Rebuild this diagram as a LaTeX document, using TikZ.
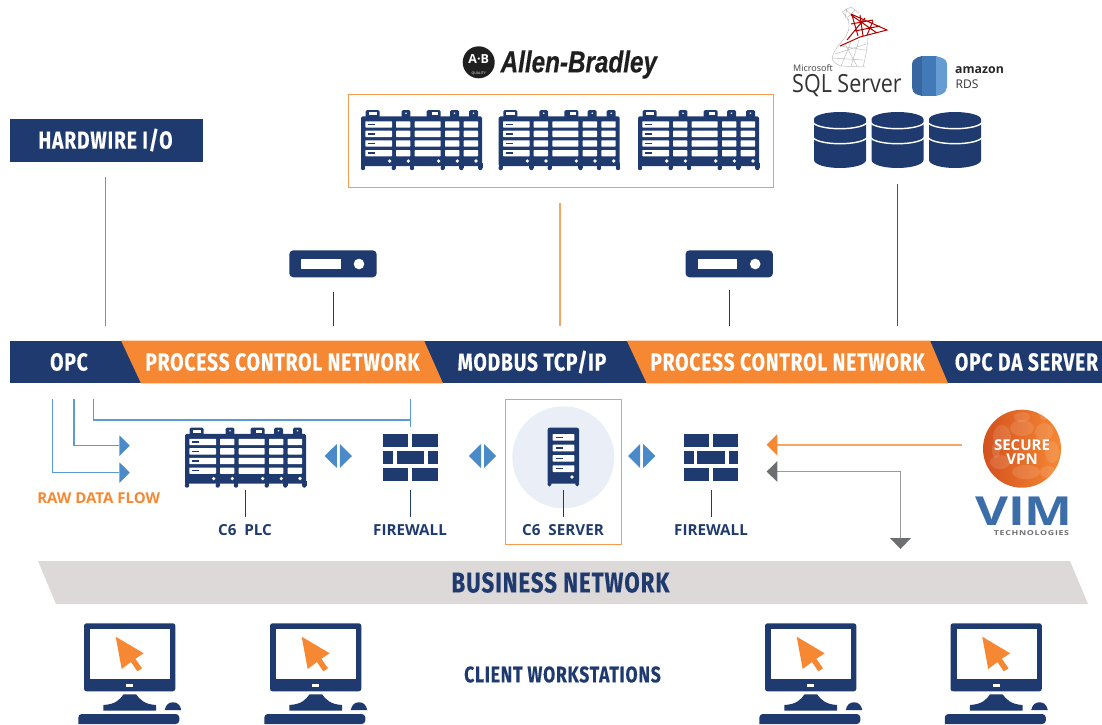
\documentclass[tikz,border=0pt]{standalone}
\usepackage{fontspec}
\setmainfont{Open Sans}
\newfontfamily\headfont[FakeStretch=0.78,LetterSpace=3.4,FakeBold=0.3]{Fira Sans Bold}
\newfontfamily\labelfont{Open Sans Bold}
\newfontfamily\wideb[FakeStretch=1.27]{Open Sans Bold}
\newfontfamily\techfont[FakeStretch=1.3,LetterSpace=10]{Open Sans Bold}
\newfontfamily\sqlfont[FakeStretch=0.86]{Open Sans}
\newfontfamily\abfont[FakeStretch=0.8,FakeBold=0.4]{Liberation Sans Bold Italic}
\definecolor{navy}{HTML}{1F3A6E}
\definecolor{ora}{HTML}{F68833}
\definecolor{bluel}{HTML}{5B9BD5}
\definecolor{blueh}{HTML}{4A8AC9}
\definecolor{grayh}{HTML}{6D6E71}
\definecolor{grayl}{HTML}{9A9A9C}
\definecolor{band}{HTML}{DCD9D8}
\definecolor{halo}{HTML}{E9EEF7}
\tikzset{
  x=1pt,y=-1pt,
  headtxt/.style={text=white,font=\headfont\fontsize{24.7}{25}\selectfont,inner sep=0pt},
  lab/.style={text=navy,font=\labelfont\fontsize{15.2}{16}\selectfont,inner sep=0pt},
  feedln/.style={draw=bluel,line width=1.1pt},
  orln/.style={draw=ora!75,line width=1.1pt},
  navln/.style={draw=navy,line width=1pt},
  grln/.style={draw=grayl,line width=1.1pt},
  navfill/.style={fill=navy,draw=none},
  plcicon/.pic={
    \foreach \a/\b in {4.7/18.7,40.7/49.3,65.7/79.7,89/98,108/117}
      \fill[navy,rounded corners=1.5pt] (\a,0) rectangle (\b,8);
    \foreach \a/\b in {7.5/16,71/77}
      \fill[white] (\a,2.4) rectangle (\b,5);
    \foreach \a in {45,93.5,112.5}
      \fill[white] (\a,3.2) circle (0.9);
    \fill[navy,rounded corners=1.5pt] (0,6.3) rectangle (121,56);
    \foreach \a in {2,32.7,51,81.7,100.3,119.3}{
      \fill[navy] (\a-2.2,53) rectangle (\a+2.2,58);
      \fill[navy] (\a,58) circle (2.2);
    }
    \foreach \r in {11.3,20.7,30.3,40}{
      \foreach \a/\b in {4.3/31,35/49.3,53.7/79.7,84/98.3,102.7/117}
        \fill[white,rounded corners=0.6pt] (\a,\r) rectangle (\b,\r+6.3);
      \fill[navy] (7,\r+2.4) rectangle (14.3,\r+3.9);
    }
    \foreach \a in {28.7,47.3,77.7,96.3,115}
      \fill[white] (\a,51) circle (1.8);
  },
  wallicon/.pic={
    \foreach \a/\b/\c/\d in {0/25.3/0/13.3,29.3/54.7/0/13.3,0/10/17/30.3,13.7/41/17/30.3,45/54.7/17/30.3,0/25.3/34/47.3,29.3/54.7/34/47.3}
      \fill[navy] (\a,\c) rectangle (\b,\d);
  },
  devicon/.pic={
    \fill[navy,rounded corners=4pt] (0,0) rectangle (87.4,27);
    \fill[white] (12,9) rectangle (51.4,18.7);
    \fill[white] (69.7,13.7) circle (5.3);
  },
  dbicon/.pic={
    \fill[navy] (0,7.3) arc[start angle=180,end angle=360,x radius=26,y radius=7.3]
      -- (52,48) arc[start angle=0,end angle=180,x radius=26,y radius=8] -- cycle;
    \foreach \y in {9.7,24.7}
      \draw[white,line width=1.4pt] (-1,\y) arc[start angle=180,end angle=0,x radius=27,y radius=7];
  },
  pcicon/.pic={
    \fill[navy,rounded corners=2.5pt] (0,0) rectangle (91.3,68);
    \fill[white] (6,6) rectangle (86,56);
    \fill[white] (42,60.4) rectangle (49.3,63.4);
    \fill[navy] (19.3,81.7) .. controls (32,81) and (36,76) .. (39.5,71) -- (52,71)
       .. controls (56,76) and (60,81) .. (72,81.7) -- (72,87.4) -- (19.3,87.4) -- cycle;
    \fill[navy] (80.7,86.7) .. controls (82,81) and (85,79) .. (89,79) .. controls (93,79) and (96,81) .. (97.3,86.7) -- cycle;
    \fill[navy,rounded corners=3.5pt] (-5.7,100.7) -- (-5.7,90.7) -- (95.3,90.7) -- (95.3,100.7) [sharp corners] -- cycle;
    \fill[ora] (31.7,13.4) -- (59.7,30) -- (51.3,35.4) -- (58,45) -- (53.3,48) -- (47,38.7) -- (37.7,45.7) -- cycle;
  },
  dbl/.pic={
    \fill[blueh] (-1.5,-12) -- (-1.5,12) -- (-13.7,0) -- cycle;
    \fill[blueh] (1.5,-12) -- (1.5,12) -- (13.7,0) -- cycle;
  }
}
\begin{document}
\begin{tikzpicture}
\useasboundingbox (0,0) rectangle (1102,724);

% hardwire box
\node[navfill,minimum width=193pt,minimum height=43pt,inner sep=0pt,anchor=north west] (hw) at (10,119) {};
\node[headtxt] (hwtxt) at (105.5,140) {HARDWIRE I/O};

% network bar
\fill[navy] (10,340.5) rectangle (1102,383.3);
\fill[ora] (121,340.5) -- (424,340.5) -- (443,383.3) -- (141,383.3) -- cycle;
\fill[ora] (626.7,340.5) -- (930,340.5) -- (948,383.3) -- (646.7,383.3) -- cycle;
\node[headtxt] (opc) at (69,362) {OPC};
\node[headtxt] (pcna) at (282.5,362) {PROCESS CONTROL NETWORK};
\node[headtxt] (modbus) at (532,362) {MODBUS TCP/IP};
\node[headtxt] (pcnb) at (787.5,362) {PROCESS CONTROL NETWORK};
\node[headtxt] (opcda) at (1026.5,362) {OPC DA SERVER};

% Allen-Bradley
\node[circle,fill=black!88,minimum size=32pt,inner sep=0pt] (ablogo) at (478.7,62.3) {};
\node[text=white,font=\fontsize{12.5}{12}\selectfont\bfseries,inner sep=0pt] (abt) at (478.7,59.5) {A·B};
\node[text=white,font=\fontsize{3.5}{4}\selectfont,inner sep=0pt] (abq) at (478.7,74) {QUALITY};
\node[text=black!88,font=\abfont\fontsize{30.3}{30}\selectfont,inner sep=0pt,anchor=west] (abname) at (500.5,64.5) {Allen-Bradley};

% orange box with PLCs
\node[draw=ora!85,line width=1.1pt,minimum width=425pt,minimum height=93pt,inner sep=0pt,anchor=north west] (plcbox) at (347.7,93.7) {};
\pic at (361,110) {plcicon};
\pic at (498.7,110) {plcicon};
\pic at (638,110) {plcicon};

% SQL Server logo
\begin{scope}[shift={(785,0)}]
  \draw[black!25,line width=0.5pt] (57,12) .. controls (62,16) and (67,24) .. (62,34) .. controls (60,40) and (50,46) .. (47,58) .. controls (48,62) and (52,65) .. (56,66) -- (80,67)
    (57,12) -- (66,7) (57,12) -- (64,20) (60,9) -- (70,18) (66,7) -- (74,13) (62,8) -- (60,18) (70,10) -- (63,17)
    (83,38) .. controls (82,50) and (80,60) .. (78,67) (55,46) -- (80,50) (50,54) -- (81,44) (47,58) -- (78,60) (66,42) -- (56,66) (74,40) -- (66,66) (60,44) -- (72,66);
  \draw[red!70!black,line width=1pt] (66,14) -- (102,30) -- (75,37) -- (55,46)
    (67,15) -- (73,36) (75,15) -- (78,36) (66,24) -- (88,20) (70,31) -- (95,26) (88,21) -- (82,35) (62,40) -- (80,18) (66,15) -- (92,33);
\end{scope}
\node[text=black!75,font=\fontsize{9}{9}\selectfont,inner sep=0pt,anchor=base west] (ms) at (793,71) {Microsoft};
\node[text=black!80,font=\sqlfont\fontsize{25}{25}\selectfont,inner sep=0pt,anchor=base west] (sql) at (792,92) {SQL Server};

% Amazon RDS
\fill[blueh!55!navy] (917,57.5) -- (922,56) -- (922,96) -- (917,94.5) .. controls (913,93) and (912,90) .. (912,87) -- (912,65) .. controls (912,61) and (914,59) .. (917,57.5) -- cycle;
\fill[blueh!80!navy] (922,56) rectangle (936,96);
\fill[blueh!85!white] (936,56) -- (941,57.5) .. controls (945,59) and (947,61) .. (947,65) -- (947,87) .. controls (947,90) and (945,93) .. (941,94.5) -- (936,96) -- cycle;
\node[text=black!85,font=\labelfont\fontsize{12.3}{12}\selectfont,inner sep=0pt,anchor=west] (amz) at (955,70.5) {amazon};
\node[text=black!80,font=\fontsize{12}{12}\selectfont,inner sep=0pt,anchor=west] (rds) at (955.5,84.5) {RDS};

% databases
\pic at (814,112) {dbicon};
\pic at (871.5,112) {dbicon};
\pic at (929,112) {dbicon};

% devices
\pic at (289.3,250.3) {devicon};
\pic at (685.5,250.3) {devicon};

% connector anchors
\coordinate (hwb) at (105.5,177);
\coordinate (hwt) at (105.5,326);
\coordinate (plcb) at (560,203);
\coordinate (plct) at (560,326);
\coordinate (dva) at (333,292);
\coordinate (dvat) at (333,326);
\coordinate (dvb) at (729,290);
\coordinate (dvbt) at (729,326);
\coordinate (dbb) at (897.5,184);
\coordinate (dbt) at (897.5,326);
\draw[feedln] (hwb) -- (hwt);
\draw[orln] (plcb) -- (plct);
\draw[navln] (dva) -- (dvat);
\draw[navln] (dvb) -- (dvbt);
\draw[draw=navy!70!bluel,line width=1pt] (dbb) -- (dbt);

% raw data flow
\coordinate (r1) at (52.3,399);
\coordinate (r1e) at (119.3,472.5);
\coordinate (r2) at (74,399);
\coordinate (r2e) at (119.3,445.5);
\coordinate (r3) at (93.7,399);
\coordinate (r3e) at (410.3,399);
\coordinate (r3d) at (410.3,427);
\draw[feedln] (r1) |- (r1e);
\draw[feedln] (r2) |- (r2e);
\draw[feedln] (r3) -- (93.7,420) -| (r3e);
\draw[feedln] (410.3,420) -- (r3d);
\fill[blueh] (119.3,462.3) -- (129.7,472.6) -- (119.3,483) -- cycle;
\fill[blueh] (119.3,435.3) -- (129.7,445.6) -- (119.3,456) -- cycle;
\node[text=ora,font=\labelfont\fontsize{15}{16}\selectfont,inner sep=0pt] (raw) at (98.7,497.7) {RAW DATA FLOW};

% middle row
\pic at (185,427.5) {plcicon};
\pic at (383,433.7) {wallicon};
\pic at (683.7,433.7) {wallicon};
\pic at (338.3,456) {dbl};
\pic at (482.5,456) {dbl};
\pic at (641.7,456) {dbl};

% C6 server box
\node[draw=ora!85,line width=1.1pt,minimum width=116pt,minimum height=145.6pt,inner sep=0pt,anchor=north west] (srvbox) at (505.3,398.7) {};
\fill[halo] (563.3,457.3) circle (51);
\begin{scope}[shift={(547.7,427.7)}]
  \fill[navy,rounded corners=2pt] (0,0) rectangle (31.3,56);
  \fill[navy] (1.8,57) circle (1.8) (29.5,57) circle (1.8);
  \fill[navy] (0,55) rectangle (3.6,57) (27.7,55) rectangle (31.3,57);
  \foreach \r in {6.3,17,27.3,37.6}{
    \fill[white,rounded corners=0.6pt] (5,\r) rectangle (26.6,\r+6.7);
    \fill[navy] (8.3,\r+2.5) rectangle (15.7,\r+4);
  }
  \fill[white] (24.3,49.3) circle (1.8);
\end{scope}

% labels under the icons
\coordinate (la) at (245.7,489.7);  \coordinate (lae) at (245.7,516.7);
\coordinate (lb) at (410,489.7);    \coordinate (lbe) at (410,516.7);
\coordinate (lc) at (563.3,489.7);  \coordinate (lce) at (563.3,516.7);
\coordinate (ld) at (711,489.7);    \coordinate (lde) at (711,516.7);
\draw[navln] (la) -- (lae);
\draw[navln] (lb) -- (lbe);
\draw[navln] (lc) -- (lce);
\draw[navln] (ld) -- (lde);
\node[lab] (t1) at (245,530) {C6\ \ PLC};
\node[lab] (t2) at (410,530) {FIREWALL};
\node[lab] (t3) at (563,530) {C6\ \ SERVER};
\node[lab] (t4) at (711,530) {FIREWALL};

% VPN
\shade[left color=ora!70!red!85!black,right color=ora] (1022,448.7) circle (39);
\begin{scope}
  \clip (1022,448.7) circle (39);
  \foreach \x/\y/\a/\b in {1022/428/12/8,1002/437/9/12,1044/432/9/9,1052/452/7/11,1000/462/10/7,1026/472/14/7,1048/472/8/6,1022/417/8/5,1045/415/6/5,996/450/4/8}
    \fill[white,opacity=0.12] (\x,\y) ellipse[x radius=\a,y radius=\b];
\end{scope}
\node[align=center,text=white,font=\fontsize{15}{13.5}\selectfont\bfseries,inner sep=0pt] (vpn) at (1022,452) {SECURE\\VPN};
\coordinate (vpnw) at (962,445);
\coordinate (vpne) at (777,445);
\draw[orln] (vpnw) -- (vpne);
\fill[ora] (777.3,434) -- (766.7,444.7) -- (777.3,455.3) -- cycle;

% gray return
\coordinate (ga) at (777,471.7);
\coordinate (gb) at (900.5,538);
\draw[grln] (ga) -| (gb);
\fill[grayh] (777.3,461) -- (766.7,471.5) -- (777.3,482) -- cycle;
\fill[grayh] (890,538) -- (911,538) -- (900.5,549) -- cycle;

% VIM
\node[text=blueh!65!navy,font=\wideb\fontsize{40}{34}\selectfont,inner sep=0pt] (vim) at (1024,511.5) {VIM};
\node[text=grayh,font=\techfont\fontsize{6.8}{7}\selectfont,inner sep=0pt,anchor=east] (tech) at (1069.3,533) {TECHNOLOGIES};

% business band
\fill[band] (38,561) -- (1070,561) -- (1088,604) -- (56,604) -- cycle;
\node[text=navy,font=\headfont\fontsize{28.5}{29}\selectfont,inner sep=0pt] (biz) at (560.5,582.5) {BUSINESS NETWORK};
\node[text=navy,font=\headfont\fontsize{22.5}{23}\selectfont,inner sep=0pt] (cw) at (562.5,674.5) {CLIENT WORKSTATIONS};

% workstations
\pic at (84,623.3) {pcicon};
\pic at (270,623.3) {pcicon};
\pic at (765,623.3) {pcicon};
\pic at (950.5,623.3) {pcicon};
\end{tikzpicture}
\end{document}
